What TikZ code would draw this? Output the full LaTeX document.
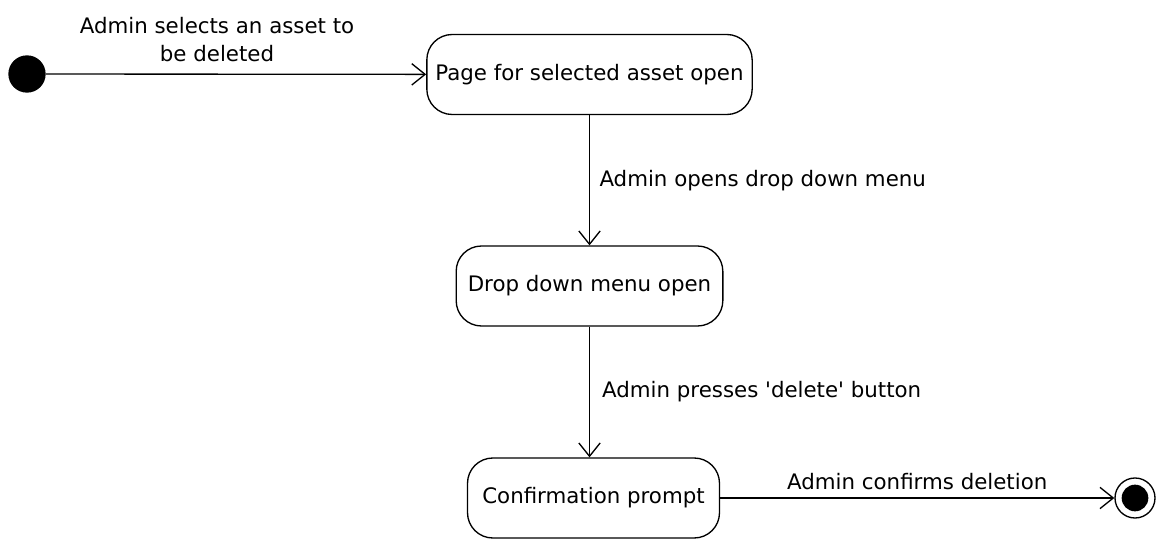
\documentclass[tikz,border=0pt]{standalone}
\usepackage{fontspec}
\setmainfont{DejaVu Sans}
\usetikzlibrary{arrows.meta, positioning}
\tikzset{
    % State styles
    state/.style={
        rectangle,
        rounded corners=19pt,
        draw=black,
        fill=white,
        line width=1pt,
        minimum height=60pt,
        align=center,
        font=\fontsize{16}{20}\selectfont
    },
    initial/.style={
        circle,
        fill=black,
        minimum size=28pt,
        inner sep=0pt
    },
    final/.style={
        circle,
        draw=black,
        line width=1pt,
        fill=white,
        minimum size=30pt,
        inner sep=0pt
    },
    % Arrow styles
    arrow/.style={
        -{Straight Barb[length=10pt, width=16pt, line width=1pt]},
        line width=1pt,
        draw=black
    },
    lbl/.style={
        font=\fontsize{16}{20.5}\selectfont,
        align=center
    }
}

\begin{document}
\begin{tikzpicture}[x=0.75pt, y=-0.75pt]
    \useasboundingbox (0,0) rectangle (1164,552);

    % Start and end
    \node[initial] (start) at (27,74) {};
    \node[final] (stop) at (1135,498) {};
    \fill (stop) circle (10pt);

    % States
    \node[state, minimum width=244pt] (page) at (589.5,74.5) {Page for selected asset open};
    \node[state, minimum width=200pt] (menu) at (589.5,286) {Drop down menu open};
    \node[state, minimum width=189pt] (prompt) at (593.5,498) {Confirmation prompt};

    % Transitions
    \draw[arrow] (start) -- node[lbl, above, pos=0.45, inner sep=9pt] {Admin selects an asset to\\be deleted} (page);
    \draw[arrow] (page.south) -- node[lbl, right, inner sep=7pt] {Admin opens drop down menu} (menu.north);
    \draw[arrow] (menu.south) -- node[lbl, right, inner sep=9pt] {Admin presses \textquotesingle delete\textquotesingle{} button} (menu.south |- prompt.north);
    \draw[arrow] (prompt) -- node[lbl, above, inner sep=6pt] {Admin confirms deletion} (stop);
\end{tikzpicture}
\end{document}
